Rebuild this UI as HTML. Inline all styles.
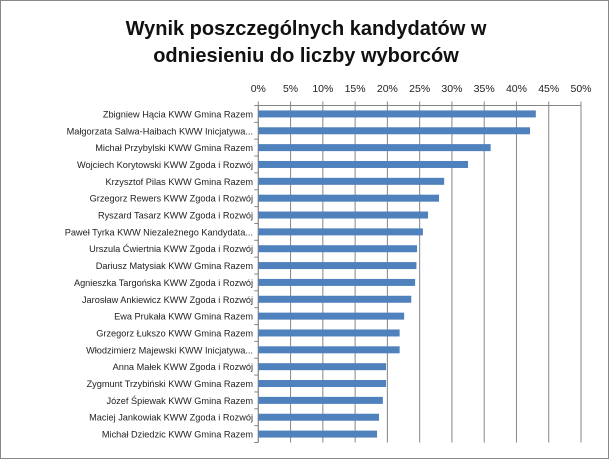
<!DOCTYPE html>
<html><head><meta charset="utf-8"><style>
body{margin:0;background:#fff;}
svg{display:block;font-family:"Liberation Sans",sans-serif;}
</style></head><body>
<svg id="c" width="611" height="461">
<rect x="0.5" y="0.5" width="608" height="458" fill="#fff" stroke="#888"/>
<text x="306" y="35" text-anchor="middle" font-size="20" font-weight="bold" fill="#111">Wynik poszczególnych kandydatów w</text>
<text x="306" y="62" text-anchor="middle" font-size="20" font-weight="bold" fill="#111">odniesieniu do liczby wyborców</text>
<g id="grid"></g><g id="bars"></g><g id="labels"></g><g id="ticks"></g>
</svg>
<script>
const categories=["Zbigniew Hącia KWW Gmina Razem","Małgorzata Salwa-Haibach KWW Inicjatywa...","Michał Przybylski KWW Gmina Razem","Wojciech Korytowski KWW Zgoda i Rozwój","Krzysztof Pilas KWW Gmina Razem","Grzegorz Rewers KWW Zgoda i Rozwój","Ryszard Tasarz KWW Zgoda i Rozwój","Paweł Tyrka KWW Niezależnego Kandydata...","Urszula Ćwiertnia KWW Zgoda i Rozwój","Dariusz Matysiak KWW Gmina Razem","Agnieszka Targońska KWW Zgoda i Rozwój","Jarosław Ankiewicz KWW Zgoda i Rozwój","Ewa Prukała KWW Gmina Razem","Grzegorz Łukszo KWW Gmina Razem","Włodzimierz Majewski KWW Inicjatywa...","Anna Małek KWW Zgoda i Rozwój","Zygmunt Trzybiński KWW Gmina Razem","Józef Śpiewak KWW Gmina Razem","Maciej Jankowiak KWW Zgoda i Rozwój","Michał Dziedzic KWW Gmina Razem"];
const values=[43.0,42.1,36.0,32.5,28.8,28.0,26.3,25.5,24.6,24.5,24.3,23.7,22.6,21.9,21.9,19.8,19.8,19.3,18.7,18.4];
const tickValues=[0,5,10,15,20,25,30,35,40,45,50];
const tickLabels=["0%","5%","10%","15%","20%","25%","30%","35%","40%","45%","50%"];
const X0=258.3,X1=581,Y0=105.5,Y1=442.5;
const xs=v=>X0+(v/50)*(X1-X0);
const band=(Y1-Y0)/categories.length;
const yc=i=>Y0+band*(i+0.5);
const NS="http://www.w3.org/2000/svg";
function mk(t,a,p){const e=document.createElementNS(NS,t);for(const k in a)e.setAttribute(k,a[k]);p.appendChild(e);return e;}
const g=document.getElementById('grid'),b=document.getElementById('bars'),l=document.getElementById('labels'),tk=document.getElementById('ticks');
tickValues.forEach((v,i)=>{
 const ln=mk('line',{x1:xs(v),x2:xs(v),y1:Y0-4,y2:Y1,stroke:'#868686','stroke-width':1},g);
 
 
 const t=mk('text',{x:xs(v),y:92,'text-anchor':'middle','font-size':10.5,fill:'#222'},g);
 t.textContent=tickLabels[i];
 
 
});
mk('line',{x1:X0,x2:X1,y1:Y0,y2:Y0,stroke:'#868686'},g);
mk('line',{x1:X0,x2:X0,y1:Y0,y2:Y1,stroke:'#868686'},g);
for(let i=0;i<=categories.length;i++){mk('line',{x1:X0-4,x2:X0,y1:Y0+band*i,y2:Y0+band*i,stroke:'#868686'},tk);}
categories.forEach((c,i)=>{
 const r=mk('rect',{x:X0,y:yc(i)-3.5,width:xs(values[i])-X0,height:7,fill:'#4f81bd'},b);
 
 
 const t=mk('text',{x:253,y:yc(i)+3.5,'text-anchor':'end','font-size':9.2,fill:'#222'},l);
 t.textContent=c;
 
 
});
</script>
</body></html>
